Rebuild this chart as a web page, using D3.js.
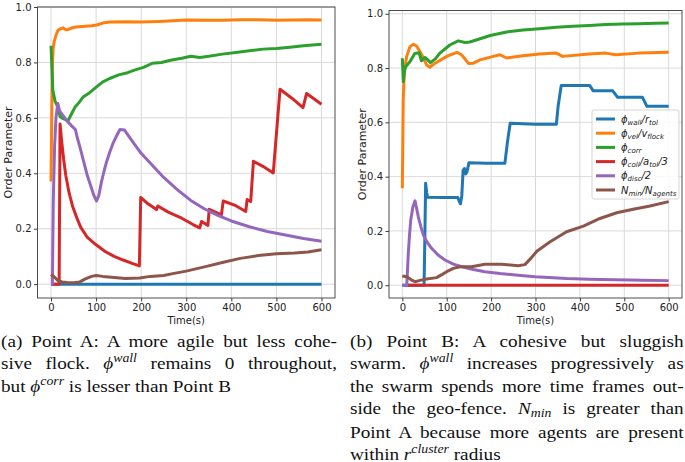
<!DOCTYPE html>
<html>
<head>
<meta charset="utf-8">
<script src="https://d3js.org/d3.v7.min.js"></script>
<style>
    body { margin: 0; background: #fff; }
    #wrap { position: relative; width: 685px; height: 462px; overflow: hidden; }
    svg { position: absolute; left: 0; top: 0; }
    .caption { position: absolute; font-family: "Liberation Serif", "DejaVu Serif", serif; font-size: 16px; line-height: 21.7px; color: #111; transform: scaleX(1.2); transform-origin: 0 0; }
    .caption div { text-align: justify; text-align-last: justify; white-space: nowrap; }
    .caption div.last { text-align: left; text-align-last: left; }
    .sup { font-size: 11.5px; position: relative; top: -7px; font-style: italic; }
    .sub { font-size: 11.5px; position: relative; top: 3px; font-style: italic; }
</style>
</head>
<body>
<div id="wrap">
    <svg id="drawing_region" width="685" height="462"></svg>
    <div class="caption" style="left:1px; top:331px; width:280px;">
        <div>(a) Point A: A more agile but less cohe-</div>
        <div>sive flock. <i>ϕ</i><span class="sup">wall</span> remains 0 throughout,</div>
        <div class="last">but <i>ϕ</i><span class="sup">corr</span> is lesser than Point B</div>
    </div>
    <div class="caption" style="left:350px; top:331px; width:278px;">
        <div>(b) Point B: A cohesive but sluggish</div>
        <div>swarm. <i>ϕ</i><span class="sup">wall</span> increases progressively as</div>
        <div>the swarm spends more time frames out-</div>
        <div>side the geo-fence. <i>N</i><span class="sub">min</span> is greater than</div>
        <div>Point A because more agents are present</div>
        <div class="last">within <i>r</i><span class="sup">cluster</span> radius</div>
    </div>
</div>
<script>
// x ticks / y ticks
const xTicks = [0, 100, 200, 300, 400, 500, 600];
const yTicks = [0.0, 0.2, 0.4, 0.6, 0.8, 1.0];

// Point A series: [time(s), value]
const A_wall = [[0,0],[100,0],[200,0],[300,0],[400,0],[500,0],[600,0]];
const A_vel = [[0,0.37],[1.5,0.6],[3,0.78],[4.6,0.848],[7,0.875],[9,0.887],[12,0.903],[16,0.917],[22,0.922],[27,0.925],[32,0.918],[37,0.918],[45,0.924],[55,0.928],[70,0.93],[90,0.932],[101,0.935],[115,0.942],[130,0.946],[170,0.947],[200,0.946],[240,0.948],[270,0.95],[300,0.953],[340,0.952],[380,0.952],[420,0.954],[460,0.954],[500,0.952],[540,0.953],[570,0.954],[600,0.953]];
const A_corr = [[0,0.86],[2,0.78],[4,0.7],[9,0.66],[16,0.635],[20,0.605],[27,0.597],[38,0.59],[45,0.613],[53,0.638],[62,0.655],[71,0.675],[85,0.69],[101,0.712],[115,0.73],[130,0.742],[150,0.755],[170,0.763],[185,0.772],[205,0.782],[225,0.797],[245,0.8],[265,0.808],[290,0.815],[310,0.822],[330,0.818],[350,0.822],[380,0.83],[410,0.836],[440,0.842],[470,0.848],[500,0.85],[530,0.855],[560,0.86],[600,0.866]];
const A_coll = [[0,0],[18,0],[20,0.578],[24,0.51],[28,0.45],[33,0.39],[40,0.33],[48,0.28],[57,0.24],[66,0.205],[80,0.17],[100,0.142],[120,0.118],[140,0.1],[160,0.087],[180,0.075],[196,0.066],[199,0.313],[215,0.29],[234,0.269],[237,0.282],[260,0.26],[290,0.238],[315,0.215],[330,0.203],[334,0.226],[348,0.212],[351,0.27],[378,0.25],[382,0.3],[410,0.283],[432,0.262],[435,0.305],[443,0.298],[449,0.443],[470,0.425],[493,0.401],[508,0.703],[535,0.67],[559,0.637],[567,0.688],[600,0.649]];
const A_disc = [[0,0],[3,0],[5,0.3],[8,0.5],[11,0.6],[15,0.652],[19,0.625],[25,0.612],[35,0.59],[45,0.572],[54,0.558],[58,0.53],[64,0.495],[72,0.445],[80,0.395],[88,0.355],[95,0.32],[101,0.3],[106,0.32],[112,0.37],[118,0.41],[123,0.44],[130,0.475],[138,0.51],[146,0.537],[153,0.558],[163,0.556],[172,0.535],[185,0.505],[200,0.472],[220,0.437],[250,0.385],[280,0.341],[310,0.302],[340,0.272],[370,0.248],[400,0.228],[440,0.207],[480,0.19],[520,0.177],[560,0.165],[600,0.155]];
const A_nmin = [[0,0.035],[8,0.025],[16,0.012],[25,0.008],[35,0.006],[50,0.005],[64,0.008],[75,0.018],[90,0.028],[100,0.031],[115,0.028],[140,0.024],[165,0.02],[197,0.022],[220,0.028],[250,0.031],[270,0.038],[300,0.047],[345,0.064],[380,0.078],[420,0.093],[460,0.103],[500,0.11],[540,0.112],[570,0.116],[600,0.124]];

// Point B series
const B_wall = [[0,0],[49,0],[51,0.2],[52.5,0.376],[55,0.34],[57,0.324],[90,0.323],[125,0.323],[128,0.31],[131,0.3],[134,0.33],[137,0.424],[140,0.43],[143,0.41],[146,0.42],[150,0.451],[190,0.449],[231,0.449],[237,0.53],[243,0.597],[300,0.593],[347,0.593],[351,0.66],[358,0.736],[422,0.736],[430,0.716],[474,0.716],[485,0.692],[541,0.692],[551,0.659],[600,0.659]];
const B_vel = [[0,0.357],[2,0.68],[4.5,0.79],[9.7,0.842],[17,0.878],[25,0.888],[32,0.881],[43,0.852],[55,0.811],[62,0.803],[73,0.817],[100,0.843],[123,0.858],[134,0.848],[149,0.817],[160,0.818],[175,0.83],[205,0.843],[220,0.849],[235,0.837],[272,0.845],[309,0.852],[347,0.855],[361,0.843],[421,0.852],[458,0.855],[481,0.849],[533,0.855],[600,0.858]];
const B_corr = [[0,0.836],[2.3,0.75],[5,0.79],[7.5,0.805],[17,0.823],[28,0.854],[38,0.856],[43,0.827],[47,0.832],[51,0.839],[56,0.832],[63.5,0.82],[75,0.835],[84,0.854],[107,0.885],[126,0.9],[141,0.894],[152,0.896],[170,0.905],[198,0.92],[235,0.933],[272,0.94],[309,0.945],[347,0.95],[384,0.954],[421,0.957],[458,0.96],[496,0.962],[533,0.963],[570,0.965],[600,0.966]];
const B_coll = [[12,0],[100,0],[200,0],[300,0],[400,0],[500,0],[600,0]];
const B_disc = [[0,0],[10,0],[13.5,0.117],[16,0.18],[19,0.24],[24,0.29],[28.6,0.311],[32,0.285],[36,0.252],[42,0.215],[47.5,0.185],[56,0.158],[66,0.136],[80,0.112],[96,0.093],[115,0.078],[134,0.068],[160,0.058],[186,0.05],[220,0.043],[261,0.037],[299,0.031],[340,0.028],[370,0.025],[420,0.022],[480,0.02],[540,0.018],[600,0.017]];
const B_nmin = [[0,0.034],[10,0.031],[20,0.02],[28.6,0.013],[40,0.018],[51,0.022],[77,0.028],[90,0.04],[100,0.05],[115,0.062],[130,0.068],[156,0.068],[186,0.077],[224,0.077],[261,0.072],[276,0.076],[290,0.1],[303,0.125],[333,0.16],[370,0.197],[408,0.218],[445,0.246],[483,0.267],[520,0.28],[558,0.292],[600,0.308]];

const colors = ['#1f77b4', '#ff7f0e', '#2ca02c', '#d62728', '#9467bd', '#8c564b'];

// legend labels: [main, sub, main, sub, tail]
const legendLabels = [
    ['ϕ', 'wall', '/r', 'tol', ''],
    ['ϕ', 'vel', '/v', 'flock', ''],
    ['ϕ', 'corr', '', '', ''],
    ['ϕ', 'coll', '/a', 'tol', '/3'],
    ['ϕ', 'disc', '/2', '', ''],
    ['N', 'min', '/N', 'agents', '']
];

class OrderChart {
    constructor(config, series) {
        this.config = config;
        this.series = series;
        this.init();
    }

    init() {
        let self = this;
        self.svg = d3.select(self.config.parent);
        self.chart = self.svg.append('g');

        self.xscale = d3.scaleLinear()
            .domain([-30, 630])
            .range(self.config.xrange);
        self.yscale = d3.scaleLinear()
            .domain(self.config.ydomain)
            .range(self.config.yrange);

        self.xaxis = d3.axisBottom(self.xscale)
            .tickValues(xTicks)
            .tickSize(3.5)
            .tickPadding(2.5)
            .tickSizeOuter(0);
        self.yaxis = d3.axisLeft(self.yscale)
            .tickValues(yTicks)
            .tickFormat(d3.format('.1f'))
            .tickSize(3.5)
            .tickPadding(2.5)
            .tickSizeOuter(0);

        self.line = d3.line()
            .x(d => self.xscale(d[0]))
            .y(d => self.yscale(d[1]));
    }

    render() {
        let self = this;
        const [x0, x1] = self.config.xrange;
        const [y1, y0] = self.config.yrange;

        // grid
        self.chart.append('g')
            .selectAll('line')
            .data(xTicks)
            .join('line')
            .attr('x1', d => self.xscale(d)).attr('x2', d => self.xscale(d))
            .attr('y1', y0).attr('y2', y1)
            .attr('stroke', '#d9d9d9').attr('stroke-width', 1);
        self.chart.append('g')
            .selectAll('line')
            .data(yTicks)
            .join('line')
            .attr('x1', x0).attr('x2', x1)
            .attr('y1', d => self.yscale(d)).attr('y2', d => self.yscale(d))
            .attr('stroke', '#d9d9d9').attr('stroke-width', 1);

        // lines
        self.chart.append('g')
            .selectAll('path')
            .data(self.series)
            .join('path')
            .attr('d', d => self.line(d))
            .attr('fill', 'none')
            .attr('stroke', (d, i) => colors[i])
            .attr('stroke-width', 3)
            .attr('stroke-linejoin', 'round');

        // frame
        self.chart.append('rect')
            .attr('x', x0).attr('y', y0)
            .attr('width', x1 - x0).attr('height', y1 - y0)
            .attr('fill', 'none')
            .attr('stroke', '#3a3a3a')
            .attr('stroke-width', 0.9);

        const xg = self.chart.append('g')
            .attr('transform', `translate(0, ${y1})`)
            .call(self.xaxis);
        const yg = self.chart.append('g')
            .attr('transform', `translate(${x0}, 0)`)
            .call(self.yaxis);
        [xg, yg].forEach(g => {
            g.select('.domain').remove();
            g.selectAll('line').attr('stroke', '#3a3a3a');
            g.selectAll('text')
                .attr('fill', '#222')
                .attr('font-family', 'DejaVu Sans')
                .attr('font-size', 10);
        });

        self.chart.append('text')
            .attr('x', (x0 + x1) / 2)
            .attr('y', 324)
            .attr('text-anchor', 'middle')
            .attr('font-family', 'DejaVu Sans')
            .attr('font-size', 10)
            .attr('fill', '#222')
            .text('Time(s)');

        self.chart.append('text')
            .attr('transform', `translate(${self.config.ylabelX}, ${(y0 + y1) / 2}) rotate(-90)`)
            .attr('text-anchor', 'middle')
            .attr('font-family', 'DejaVu Sans')
            .attr('font-size', 11)
            .attr('fill', '#222')
            .text('Order Parameter');

        if (self.config.legend) self.renderLegend();
    }

    renderLegend() {
        let self = this;
        const lx = self.config.xrange[1] - 90;
        const ly = 110;
        const lg = self.chart.append('g')
            .attr('transform', `translate(${lx}, ${ly})`);
        lg.append('rect')
            .attr('width', 87).attr('height', 89)
            .attr('rx', 2)
            .attr('fill', 'white').attr('fill-opacity', 0.85)
            .attr('stroke', '#cccccc').attr('stroke-width', 0.8);
        const rows = lg.selectAll('g.row')
            .data(legendLabels)
            .join('g')
            .attr('class', 'row')
            .attr('transform', (d, i) => `translate(0, ${9 + i * 14.2})`);
        rows.append('line')
            .attr('x1', 4).attr('x2', 23)
            .attr('stroke', (d, i) => colors[i])
            .attr('stroke-width', 3);
        const t = rows.append('text')
            .attr('x', 29)
            .attr('y', 3.5)
            .attr('font-family', 'DejaVu Sans')
            .attr('font-style', 'italic')
            .attr('font-size', 10)
            .attr('fill', '#222');
        t.each(function(d) {
            const el = d3.select(this);
            el.append('tspan').text(d[0]);
            if (d[1]) el.append('tspan').attr('font-size', 7).attr('dy', 2).text(d[1]);
            if (d[2]) el.append('tspan').attr('dy', -2).text(d[2]);
            else if (d[1]) el.append('tspan').attr('dy', -2).text('');
            if (d[3]) el.append('tspan').attr('font-size', 7).attr('dy', 2).text(d[3]);
            if (d[4]) el.append('tspan').attr('dy', -2).text(d[4]);
        });
    }
}

let chartA = new OrderChart({
    parent: '#drawing_region',
    xrange: [37.5, 335],
    yrange: [298, 7],
    ydomain: [-0.05, 1.0],
    ylabelX: 12,
    legend: false
}, [A_wall, A_vel, A_corr, A_coll, A_disc, A_nmin]);
chartA.render();

let chartB = new OrderChart({
    parent: '#drawing_region',
    xrange: [389, 682],
    yrange: [298, 10.5],
    ydomain: [-0.047, 1.012],
    ylabelX: 366,
    legend: true
}, [B_wall, B_vel, B_corr, B_coll, B_disc, B_nmin]);
chartB.render();
</script>
</body>
</html>
